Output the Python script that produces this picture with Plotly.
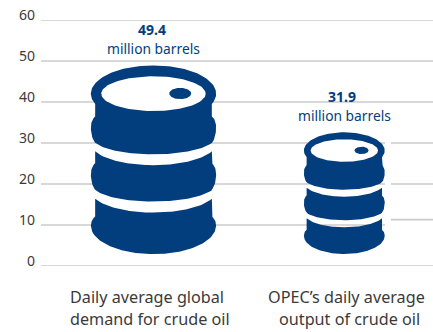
import numpy as np
import plotly.graph_objects as go

# Chart content
categories = [["Daily average global", "demand for crude oil"],
              ["OPEC\u2019s daily average", "output of crude oil"]]
values = [49.4, 31.9]
unit = "million barrels"
y_ticks = [0, 10, 20, 30, 40, 50, 60]

BLUE = "#023e7d"
GRID = "#cbcbcb"
TEXT = "#3a3a3a"
FONT = "Noto Sans"

# Layout of the plotting area (x axis runs in pixels, y axis in barrels)
LEFT, TOP, BOTTOM = 41, 19.5, 65.5
W, H = 433, 332
PX_PER_Y = (H - TOP - BOTTOM) / 60
CENTERS = [153.5, 344.3]
BASE = 2.9          # barrels stand slightly above the zero line
SCALE = 0.9317      # barrel height in y units per unit of value
NOMINAL = 190.0     # height of the outline template below
RX, BX = 62.8, 58.5 # hoop and body half-widths in the template


def arc(cy, rx, ry, x0, x1, n=30):
    """Lower arc of an ellipse centred on the barrel axis, from x0 to x1."""
    xs = np.linspace(x0, x1, n)
    return xs, cy + ry * np.sqrt(np.clip(1 - (xs / rx) ** 2, 0, 1))


def bulge(y_from, y_edge, n=14):
    """Hoop side running from the body at y_from out to the hoop edge at y_edge."""
    s_max = 1.15
    s = np.linspace(s_max, 0, n)
    a = (RX - BX) / (1 - np.cos(s_max))
    return RX - a * (1 - np.cos(s)), y_edge + (y_from - y_edge) * np.sin(s) / np.sin(s_max)


def closed(x, y):
    return np.r_[x, -x[::-1]], np.r_[y, y[::-1]]


def ellipse(cx, cy, rx, ry, n=120):
    t = np.linspace(0, 2 * np.pi, n)
    return cx + rx * np.cos(t), cy + ry * np.sin(t)


def barrel_pieces():
    """Right-hand outlines of the three stacked sections, mirrored and closed."""
    t = np.linspace(-np.pi / 2, np.arcsin(10.4 / 28.5), 50)
    rim_x, rim_y = RX * np.cos(t), 28.5 + 28.5 * np.sin(t)

    up1, down1 = bulge(51.5, 62.2), bulge(77.9, 62.2)
    a1 = arc(71.6, RX, 18, BX, 0)
    top_x = np.r_[rim_x, up1[0], down1[0][::-1], a1[0]]
    top_y = np.r_[rim_y, up1[1], down1[1][::-1], a1[1]]

    m0 = arc(78.5, RX, 22, 0, BX)
    up2, down2 = bulge(98.5, 109.5), bulge(125.2, 109.5)
    a2 = arc(119.1, RX, 18, BX, 0)
    mid_x = np.r_[m0[0], up2[0], down2[0][::-1], a2[0]]
    mid_y = np.r_[m0[1], up2[1], down2[1][::-1], a2[1]]

    l0 = arc(126.2, RX, 22, 0, BX)
    up3 = bulge(152.2, 161.5)
    a3 = arc(161.5, RX, 28.5, RX, 0, 50)
    low_x = np.r_[l0[0], up3[0], a3[0]]
    low_y = np.r_[l0[1], up3[1], a3[1]]
    return [closed(top_x, top_y), closed(mid_x, mid_y), closed(low_x, low_y)]


fig = go.Figure()


def to_data(cx, value, x, y):
    """Map template coordinates onto the axes at the size given by value."""
    size = value * SCALE
    top = BASE + size
    return cx + x / NOMINAL * size * PX_PER_Y, top - y / NOMINAL * size


def add_fill(x, y, color):
    fig.add_trace(go.Scatter(x=x, y=y, mode="lines", fill="toself", fillcolor=color,
                             line=dict(width=0, color=color), hoverinfo="skip",
                             cliponaxis=False, showlegend=False))


for cx, value in zip(CENTERS, values):
    for px, py in barrel_pieces():
        add_fill(*to_data(cx, value, px, py), BLUE)
    add_fill(*to_data(cx, value, *ellipse(0, 28.5, 52.3, 17.5)), "#ffffff")
    add_fill(*to_data(cx, value, *ellipse(26.8, 28.3, 11, 5.7)), BLUE)

annotations = []
for cx, value in zip(CENTERS, values):
    top = BASE + value * SCALE
    annotations.append(dict(x=cx - 2, y=top, text=f"<b>{value}</b>", yshift=36,
                            font=dict(size=14, color=BLUE, family=FONT)))
    annotations.append(dict(x=cx, y=top, text=unit, yshift=17,
                            font=dict(size=13.8, color=BLUE, family=FONT)))

# Two-line category captions under the axis
caption_x = [(147, 150), (346, 349)]
for (first, second), (x1, x2) in zip(categories, caption_x):
    annotations.append(dict(x=x1, y=0, yref="paper", text=first, yshift=-31,
                            font=dict(size=16.2, color=TEXT, family=FONT)))
    annotations.append(dict(x=x2, y=0, yref="paper", text=second, yshift=-53,
                            font=dict(size=16.2, color=TEXT, family=FONT)))

# Value labels sit a little above their grid lines
for tick in y_ticks:
    annotations.append(dict(x=0, xref="paper", y=tick, text=str(tick), xanchor="right",
                            xshift=-4, yshift=5.5,
                            font=dict(size=14, color=TEXT, family=FONT)))

for a in annotations:
    a.setdefault("xref", "x")
    a.setdefault("yref", "y")
    a.setdefault("xanchor", "center")
    a.setdefault("yanchor", "middle")
    a["showarrow"] = False


def rule(x0, x1, y):
    return dict(type="line", x0=x0, x1=x1, y0=y, y1=y, xref="x", yref="y",
                line=dict(color=GRID, width=1.7), layer="between")


# Grid rules, broken just right of the second barrel; the rule by 10 steps up there
GAP_START, GAP_END = 385, 391
shapes = []
for tick in y_ticks:
    if tick in (10, 20, 30):
        shapes.append(rule(LEFT, GAP_START, tick))
        shapes.append(rule(GAP_END, W, 11.3 if tick == 10 else tick))
    else:
        shapes.append(rule(LEFT, W, tick))

fig.update_layout(
    width=W, height=H, autosize=False,
    margin=dict(l=LEFT, r=0, t=TOP, b=BOTTOM, pad=0),
    paper_bgcolor="#ffffff", plot_bgcolor="#ffffff",
    showlegend=False,
    annotations=annotations,
    shapes=shapes,
    xaxis=dict(range=[LEFT, W], showticklabels=False, showgrid=False, zeroline=False,
               showline=False, ticks="", fixedrange=True),
    yaxis=dict(range=[0, 60], tickvals=y_ticks, showticklabels=False, showgrid=False,
               zeroline=False, showline=False, ticks="", fixedrange=True),
)

fig.write_html("out.html", config=dict(displayModeBar=False))
